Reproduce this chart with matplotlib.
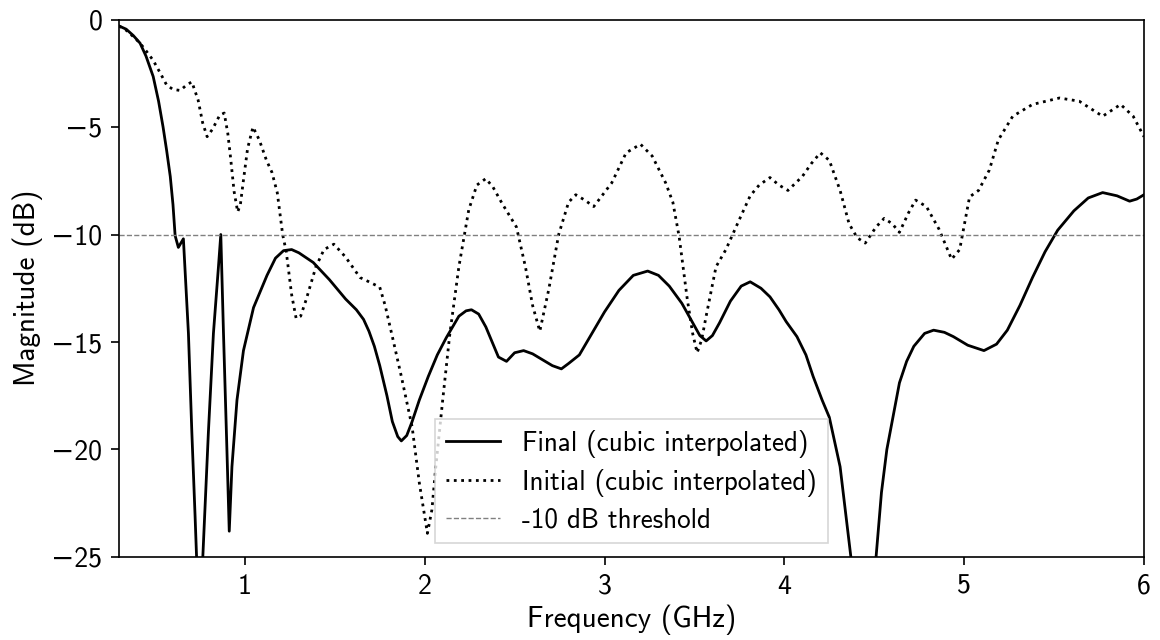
import matplotlib
matplotlib.use("Agg")
import matplotlib.pyplot as plt
from matplotlib.ticker import FuncFormatter

plt.rcParams["font.family"] = ["cmss10", "DejaVu Sans"]
plt.rcParams["axes.unicode_minus"] = True
plt.rcParams["axes.formatter.use_mathtext"] = False

# Final design response (GHz, dB)
freq_final = [0.30, 0.34, 0.38, 0.417, 0.45, 0.49, 0.52, 0.545, 0.565, 0.585,
              0.60, 0.612, 0.63, 0.658, 0.672, 0.686, 0.705, 0.723, 0.74, 0.752,
              0.766, 0.797, 0.825, 0.853, 0.866, 0.881, 0.90, 0.913, 0.928, 0.956,
              0.992, 1.048, 1.123, 1.17, 1.215, 1.26, 1.30, 1.38, 1.47, 1.56,
              1.62, 1.66, 1.69, 1.72, 1.75, 1.79, 1.82, 1.85, 1.87, 1.90,
              1.93, 1.97, 2.02, 2.07, 2.12, 2.19, 2.23, 2.26, 2.30, 2.34,
              2.38, 2.41, 2.455, 2.50, 2.55, 2.60, 2.65, 2.71, 2.76, 2.80,
              2.86, 2.93, 3.00, 3.08, 3.16, 3.24, 3.30, 3.36, 3.43, 3.49,
              3.53, 3.565, 3.60, 3.64, 3.70, 3.76, 3.81, 3.87, 3.92, 3.97,
              4.01, 4.07, 4.12, 4.16, 4.21, 4.25, 4.31, 4.37, 4.41, 4.45,
              4.48, 4.51, 4.54, 4.57, 4.64, 4.68, 4.72, 4.78, 4.83, 4.89,
              4.94, 5.02, 5.11, 5.18, 5.24, 5.31, 5.38, 5.45, 5.52, 5.61,
              5.69, 5.77, 5.85, 5.92, 5.96, 6.00]
mag_final = [-0.30, -0.45, -0.75, -1.1, -1.7, -2.65, -3.8, -5.0, -6.1, -7.3,
             -8.6, -10.05, -10.6, -10.2, -12.4, -14.6, -19.2, -23.1, -27.0, -30.0,
             -25.0, -19.2, -14.6, -11.5, -10.0, -14.6, -20.0, -23.8, -20.8, -17.7,
             -15.4, -13.4, -11.9, -11.1, -10.75, -10.7, -10.85, -11.3, -12.1, -13.0,
             -13.5, -13.95, -14.5, -15.2, -16.1, -17.5, -18.7, -19.4, -19.6, -19.35,
             -18.7, -17.7, -16.6, -15.6, -14.8, -13.8, -13.55, -13.5, -13.7, -14.3,
             -15.1, -15.7, -15.9, -15.5, -15.4, -15.55, -15.8, -16.1, -16.25, -16.0,
             -15.6, -14.6, -13.6, -12.6, -11.9, -11.7, -11.9, -12.4, -13.2, -14.1,
             -14.7, -14.95, -14.7, -14.1, -13.1, -12.4, -12.2, -12.5, -12.9, -13.5,
             -14.05, -14.75, -15.6, -16.6, -17.7, -18.5, -20.8, -25.0, -29.0, -31.0,
             -29.0, -25.0, -22.0, -20.0, -16.9, -15.9, -15.2, -14.6, -14.45, -14.55,
             -14.75, -15.15, -15.4, -15.1, -14.45, -13.3, -12.0, -10.8, -9.8, -8.9,
             -8.3, -8.05, -8.2, -8.45, -8.35, -8.15]

# Initial design response (GHz, dB)
freq_initial = [0.30, 0.34, 0.38, 0.417, 0.45, 0.49, 0.53, 0.565, 0.60, 0.64,
                0.675, 0.705, 0.74, 0.765, 0.79, 0.82, 0.86, 0.885, 0.905, 0.92,
                0.94, 0.96, 0.975, 0.99, 1.015, 1.045, 1.08, 1.12, 1.15, 1.18,
                1.21, 1.23, 1.26, 1.285, 1.31, 1.34, 1.395, 1.44, 1.495, 1.56,
                1.64, 1.69, 1.75, 1.78, 1.82, 1.87, 1.93, 1.97, 2.015, 2.04,
                2.06, 2.10, 2.14, 2.19, 2.245, 2.29, 2.34, 2.38, 2.43, 2.51,
                2.56, 2.60, 2.64, 2.69, 2.745, 2.80, 2.84, 2.89, 2.94, 3.04,
                3.12, 3.20, 3.265, 3.34, 3.38, 3.415, 3.46, 3.49, 3.515, 3.54,
                3.565, 3.62, 3.675, 3.75, 3.81, 3.86, 3.92, 3.97, 4.02, 4.10,
                4.15, 4.20, 4.25, 4.31, 4.36, 4.405, 4.45, 4.51, 4.555, 4.60,
                4.64, 4.69, 4.73, 4.79, 4.86, 4.93, 4.975, 5.03, 5.08, 5.14,
                5.19, 5.27, 5.38, 5.53, 5.64, 5.77, 5.87, 5.94, 6.00]
mag_initial = [-0.30, -0.5, -0.8, -1.1, -1.45, -1.9, -2.5, -3.05, -3.25, -3.3,
               -3.05, -2.9, -3.75, -4.8, -5.45, -5.1, -4.45, -4.35, -5.3, -6.4,
               -8.0, -8.95, -8.6, -7.6, -6.0, -5.0, -5.6, -6.55, -7.1, -8.05,
               -10.0, -10.8, -12.8, -13.9, -13.8, -13.05, -11.5, -10.7, -10.45, -11.05,
               -12.0, -12.2, -12.45, -13.3, -14.75, -16.6, -18.95, -21.55, -23.9, -22.8,
               -20.95, -17.7, -14.6, -11.5, -8.85, -7.7, -7.4, -7.8, -8.55, -9.65,
               -11.5, -13.3, -14.5, -12.55, -10.0, -8.5, -8.15, -8.4, -8.7, -7.6,
               -6.2, -5.8, -6.35, -7.6, -8.5, -10.1, -13.0, -14.6, -15.5, -14.9,
               -13.8, -11.5, -10.7, -9.3, -8.2, -7.7, -7.35, -7.7, -7.95, -7.3,
               -6.7, -6.2, -6.55, -7.95, -9.5, -10.15, -10.4, -9.65, -9.25, -9.5,
               -9.9, -9.0, -8.4, -8.7, -9.75, -11.15, -10.7, -8.25, -7.95, -7.0,
               -5.6, -4.5, -3.95, -3.65, -3.8, -4.5, -3.95, -4.5, -5.45]

threshold_db = -10
x_limits = (0.3, 6)
y_limits = (-25, 0)
x_ticks = [1, 2, 3, 4, 5, 6]
y_ticks = [0, -5, -10, -15, -20, -25]


def tick_text(value, _pos):
    return f"{value:g}".replace("-", "\u2212")


fig = plt.figure(figsize=(11.6, 6.4), dpi=100)
ax = fig.add_axes([0.1026, 0.1297, 0.8836, 0.8398])

ax.plot(freq_final, mag_final, color="black", lw=2.0, ls="-",
        label="Final (cubic interpolated)")
ax.plot(freq_initial, mag_initial, color="black", lw=2.0, ls=":",
        label="Initial (cubic interpolated)")
ax.axhline(threshold_db, color="gray", lw=1.0, ls="--", label="-10 dB threshold")

ax.set_xlim(*x_limits)
ax.set_ylim(*y_limits)
ax.set_xticks(x_ticks)
ax.set_yticks(y_ticks)
ax.xaxis.set_major_formatter(FuncFormatter(tick_text))
ax.yaxis.set_major_formatter(FuncFormatter(tick_text))
ax.tick_params(direction="out", length=6, width=1.2, labelsize=20, pad=6)
for sp in ax.spines.values():
    sp.set_linewidth(1.2)

ax.set_xlabel("Frequency (GHz)", fontsize=21, labelpad=4)
ax.set_ylabel("Magnitude (dB)", fontsize=21, labelpad=6)

leg = ax.legend(loc="lower center", fontsize=19.5, fancybox=False,
                framealpha=0.8, edgecolor="0.8", handlelength=2.0,
                labelspacing=0.4)
leg.get_frame().set_linewidth(1.2)

fig.savefig("out.png", dpi=100)
